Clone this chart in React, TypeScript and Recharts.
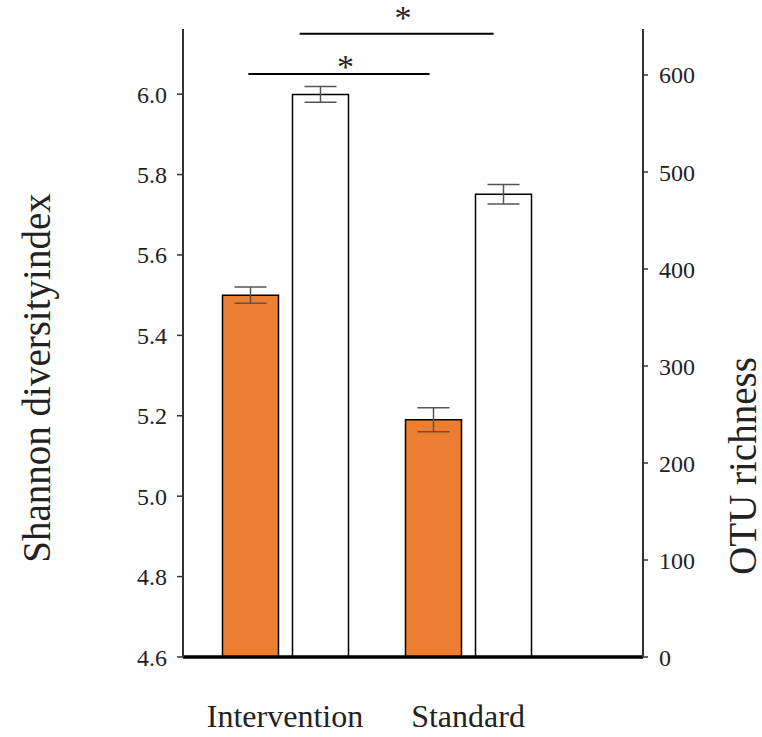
import React from "react";
import { BarChart, Bar, XAxis, YAxis, ErrorBar, ReferenceLine, Label } from "recharts";

const groups = ["Intervention", "Standard"];
const shannon = [5.5, 5.19];
const shannonErr = [0.02, 0.03];
const otu = [580, 477];
const otuErr = [8, 10];

const shannonTicks = [4.6, 4.8, 5.0, 5.2, 5.4, 5.6, 5.8, 6.0];
const otuTicks = [0, 100, 200, 300, 400, 500, 600];

// significance brackets: x in group units (0 = Intervention, 1 = Standard), level on the Shannon scale
const sigFrom = [-0.2, 0.08];
const sigTo = [0.79, 1.14];
const sigLevel = [6.05, 6.15];

const data = groups.map((g, i) => ({
  group: g,
  shannon: shannon[i],
  shannonErr: shannonErr[i],
  otu: otu[i],
  otuErr: otuErr[i],
}));

const FONT = '"Liberation Serif", "Times New Roman", serif';
const INK = "#222";

// the hidden "sig" axis spans the plot width as 0..1; group units run from GLO to GHI over it
const GLO = -0.557;
const GHI = 1.956;
const toSig = (g: number) => (g - GLO) / (GHI - GLO);

const SideTitle = ({ viewBox, value, dx, dy }: any) => {
  const cx = viewBox.x + dx;
  const cy = viewBox.y + viewBox.height / 2 + dy;
  return (
    <text
      x={cx}
      y={cy}
      transform={`rotate(-90 ${cx} ${cy})`}
      textAnchor="middle"
      dominantBaseline="central"
      fontSize={39}
      fontFamily={FONT}
      fill={INK}
    >
      {value}
    </text>
  );
};

const Star = ({ viewBox, dx, dy }: any) => (
  <text
    x={viewBox.x + viewBox.width / 2 + dx}
    y={viewBox.y + dy}
    textAnchor="middle"
    fontSize={34}
    fontFamily={FONT}
    fill={INK}
  >
    *
  </text>
);

export default function App() {
  return (
    <div style={{ position: "absolute", left: 0, top: 0, background: "#fff" }}>
      <BarChart
        width={762}
        height={737}
        data={data}
        margin={{ top: 29, right: 0, bottom: 0, left: 0 }}
        barSize={56}
        barGap={14}
      >
        <XAxis
          dataKey="group"
          height={80}
          padding={{ left: 10.5, right: 83.5 }}
          axisLine={{ stroke: "#000", strokeWidth: 3.5 }}
          tickLine={false}
          tickSize={6}
          tickMargin={41}
          tick={{ fontSize: 32, fill: INK, fontFamily: FONT }}
        />
        <XAxis xAxisId="sig" type="number" domain={[0, 1]} allowDataOverflow hide />
        <YAxis
          yAxisId="left"
          width={183}
          domain={[4.6, 6.162]}
          allowDataOverflow
          ticks={shannonTicks}
          tickFormatter={(v: number) => v.toFixed(1)}
          axisLine={{ stroke: "#333", strokeWidth: 2 }}
          tickLine={{ stroke: "#333", strokeWidth: 1.5 }}
          tickSize={6}
          tickMargin={10}
          tick={{ fontSize: 24, fill: INK, fontFamily: FONT }}
        >
          <Label content={(p: any) => <SideTitle {...p} value="Shannon diversityindex" dx={36} dy={35} />} />
        </YAxis>
        <YAxis
          yAxisId="right"
          orientation="right"
          width={119}
          domain={[0, 647.4]}
          allowDataOverflow
          ticks={otuTicks}
          axisLine={{ stroke: "#333", strokeWidth: 2 }}
          tickLine={{ stroke: "#333", strokeWidth: 1.5 }}
          tickSize={5}
          tickMargin={11}
          tick={{ fontSize: 24, fill: INK, fontFamily: FONT }}
        >
          <Label content={(p: any) => <SideTitle {...p} value="OTU richness" dx={99} dy={123} />} />
        </YAxis>
        <Bar
          dataKey="shannon"
          yAxisId="left"
          fill="#ED7D31"
          stroke="#000"
          strokeWidth={1.5}
          isAnimationActive={false}
        >
          <ErrorBar dataKey="shannonErr" width={16} stroke="#555" strokeWidth={1.5} />
        </Bar>
        <Bar
          dataKey="otu"
          yAxisId="right"
          fill="#fff"
          stroke="#000"
          strokeWidth={1.5}
          isAnimationActive={false}
        >
          <ErrorBar dataKey="otuErr" width={16} stroke="#555" strokeWidth={1.5} />
        </Bar>
        {sigLevel.map((lvl, i) => (
          <ReferenceLine
            key={i}
            xAxisId="sig"
            yAxisId="left"
            ifOverflow="visible"
            segment={[
              { x: toSig(sigFrom[i]), y: lvl },
              { x: toSig(sigTo[i]), y: lvl },
            ]}
            stroke="#000"
            strokeWidth={2}
            label={(p: any) => <Star {...p} dx={6.5} dy={i === 0 ? 3.6 : -4.4} />}
          />
        ))}
      </BarChart>
    </div>
  );
}
